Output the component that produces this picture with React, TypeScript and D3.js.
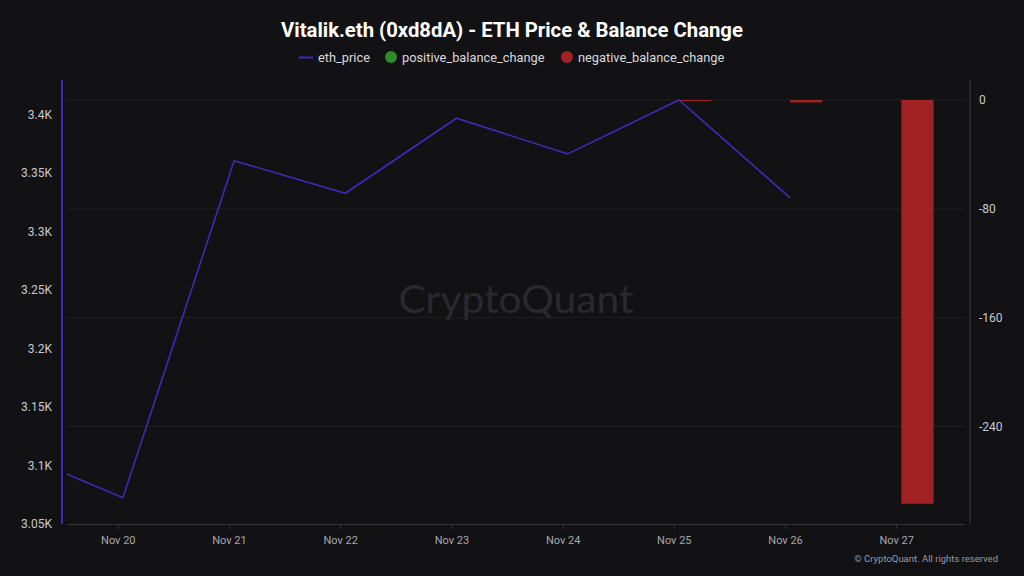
import React from "react";
import * as d3 from "d3";

const dates = [
  "2024-11-19T01:00:00Z",
  "2024-11-20T01:00:00Z",
  "2024-11-21T01:00:00Z",
  "2024-11-22T01:00:00Z",
  "2024-11-23T01:00:00Z",
  "2024-11-24T01:00:00Z",
  "2024-11-25T01:00:00Z",
  "2024-11-26T01:00:00Z",
  "2024-11-27T01:00:00Z",
];
const ethPrice: (number | null)[] = [3112.5, 3072.5, 3360.9, 3333, 3397.2, 3366.6, 3412.8, 3329, null];
const balanceChange = [0, 0, 0, 0, 0, 0, -0.4, -1.8, -296.8];
const leftTicks = [3050, 3100, 3150, 3200, 3250, 3300, 3350, 3400];
const rightTicks = [0, -80, -160, -240];
const xTickDates = [
  "2024-11-20T00:00:00Z",
  "2024-11-21T00:00:00Z",
  "2024-11-22T00:00:00Z",
  "2024-11-23T00:00:00Z",
  "2024-11-24T00:00:00Z",
  "2024-11-25T00:00:00Z",
  "2024-11-26T00:00:00Z",
  "2024-11-27T00:00:00Z",
];

const W = 1024;
const H = 576;
const plot = { left: 67, right: 965, top: 100, bottom: 524 };
const DAY = 86400000;
const FONT = "Roboto, 'Noto Sans', sans-serif";
const BG = "#121215";
const LINE_COLOR = "#3d2bb8";
const RED = "#a02222";
const GREEN = "#2f8a2a";

export default function App() {
  const t0 = Date.UTC(2024, 10, 20);
  const x = d3
    .scaleUtc()
    .domain([new Date(t0 - 0.4613 * DAY), new Date(t0 + 7.614 * DAY)])
    .range([plot.left, plot.right]);
  const yL = d3.scaleLinear().domain([3050, 3412.8]).range([plot.bottom, plot.top]);
  const minBal = d3.min(balanceChange) as number;
  const yR = d3.scaleLinear().domain([minBal * 1.05, 0]).range([plot.bottom, plot.top]);

  const pts = dates.map((d, i) => ({ t: new Date(d), p: ethPrice[i], b: balanceChange[i] }));
  const line = d3
    .line<{ t: Date; p: number | null }>()
    .defined((d) => d.p !== null)
    .x((d) => x(d.t))
    .y((d) => yL(d.p as number));

  const barW = (t: Date) => x(new Date(t.getTime() + 0.29 * DAY)) - x(t);

  return (
    <div style={{ position: "fixed", left: 0, top: 0, width: W, height: H, background: BG }}>
      <svg width={W} height={H} style={{ display: "block" }} fontFamily={FONT}>
        <defs>
          <clipPath id="plotClip">
            <rect x={plot.left} y={plot.top - 5} width={plot.right - plot.left} height={plot.bottom - plot.top + 5} />
          </clipPath>
        </defs>
        <rect x={0} y={0} width={W} height={H} fill={BG} />

        {/* watermark */}
        <text
          x={516}
          y={313}
          textAnchor="middle"
          fontSize={38}
          fill="#29292f"
          fontFamily="Lato, Roboto, sans-serif"
          textLength={235}
          lengthAdjust="spacingAndGlyphs"
        >
          CryptoQuant
        </text>

        {/* grid */}
        {rightTicks.map((v) => (
          <line key={"g" + v} x1={plot.left} x2={plot.right} y1={yR(v)} y2={yR(v)} stroke="#202025" strokeWidth={1} />
        ))}

        {/* bottom axis */}
        <line x1={plot.left} x2={plot.right} y1={plot.bottom + 0.5} y2={plot.bottom + 0.5} stroke="#34343c" strokeWidth={1} />
        {xTickDates.map((d) => {
          const xx = x(new Date(d));
          return (
            <g key={d}>
              <line x1={xx} x2={xx} y1={plot.bottom} y2={plot.bottom + 5} stroke="#34343c" />
              <text x={xx} y={544} textAnchor="middle" fontSize={11} fill="#a6a6ad">
                {d3.utcFormat("%b %-d")(new Date(d))}
              </text>
            </g>
          );
        })}

        {/* left axis */}
        <line x1={62} x2={62} y1={80} y2={plot.bottom} stroke={LINE_COLOR} strokeWidth={2} />
        {leftTicks.map((v) => (
          <text key={"l" + v} x={52} y={yL(v) + 4} textAnchor="end" fontSize={12} fill="#c8c8ce">
            {v / 1000 + "K"}
          </text>
        ))}

        {/* right axis */}
        <line x1={970} x2={970} y1={80} y2={plot.bottom} stroke="#3a3a42" strokeWidth={1} />
        {rightTicks.map((v) => (
          <text key={"r" + v} x={979} y={yR(v) + 4} textAnchor="start" fontSize={12} fill="#c8c8ce">
            {v}
          </text>
        ))}

        <g clipPath="url(#plotClip)">
          {/* bars */}
          {pts.map((d, i) =>
            d.b !== 0 ? (
              <rect
                key={"b" + i}
                x={x(d.t)}
                y={d.b < 0 ? yR(0) : yR(d.b)}
                width={barW(d.t)}
                height={Math.max(1, Math.abs(yR(d.b) - yR(0)))}
                fill={d.b < 0 ? RED : GREEN}
              />
            ) : null
          )}
          {/* line */}
          <path d={line(pts) || ""} fill="none" stroke={LINE_COLOR} strokeWidth={1.6} strokeLinejoin="miter" />
        </g>

        {/* title */}
        <text x={512} y={37} textAnchor="middle" fontSize={20.3} fontWeight={700} fill="#ffffff">
          Vitalik.eth (0xd8dA) - ETH Price &amp; Balance Change
        </text>

        {/* legend */}
        <line x1={299} x2={313} y1={57.5} y2={57.5} stroke={LINE_COLOR} strokeWidth={2} />
        <text x={318} y={62} fontSize={12.8} fill="#d8d8dc">eth_price</text>
        <circle cx={391} cy={57} r={6} fill={GREEN} />
        <text x={402} y={62} fontSize={12.8} fill="#d8d8dc">positive_balance_change</text>
        <circle cx={567} cy={57} r={6} fill={RED} />
        <text x={578} y={62} fontSize={12.8} fill="#d8d8dc">negative_balance_change</text>

        {/* footer */}
        <text x={998} y={562} textAnchor="end" fontSize={9.5} fill="#9a9aa2">
          © CryptoQuant. All rights reserved
        </text>
      </svg>
    </div>
  );
}
